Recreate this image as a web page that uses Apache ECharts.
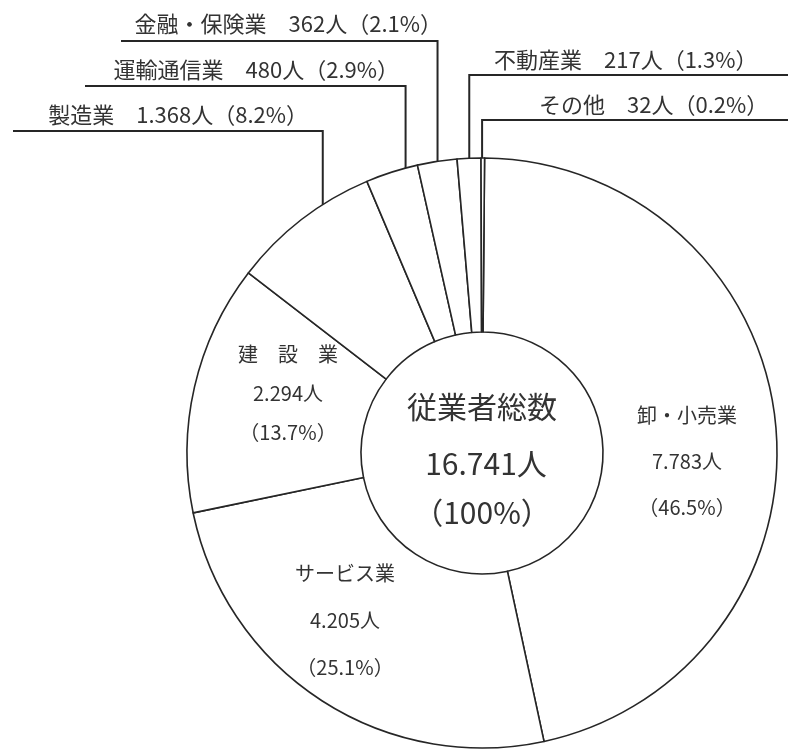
<!DOCTYPE html>
<html>
<head>
<meta charset="utf-8">
<script src="https://cdn.jsdelivr.net/npm/echarts/dist/echarts.min.js"></script>
<style>
  html, body { margin: 0; padding: 0; background: #ffffff; }
  #chart { width: 788px; height: 752px; }
</style>
</head>
<body>
<div id="chart"></div>
<script>
// ---------------- data ----------------
const categories = ['卸・小売業', 'サービス業', '建設業', '製造業', '運輸通信業', '金融・保険業', '不動産業', 'その他'];
const employees  = [7783, 4205, 2294, 1368, 480, 362, 217, 32];
const percents   = [46.5, 25.1, 13.7, 8.2, 2.9, 2.1, 1.3, 0.2];
const centerTitle = '従業者総数';
const centerPercent = 100;

// ---------------- layout / style (not data) ----------------
const FONT = '"Noto Sans CJK JP", "Noto Sans", sans-serif';
const INK = '#333333';
const LINE = '#262626';
const CENTER = [482, 453];
const RADIUS = [121, 295];
const START_ANGLE = 89.5;

// inside labels: anchor of the text block and line height
const insideLayout = {
  0: { x: 687, y: 461, lh: 46 },
  1: { x: 345, y: 620, lh: 47 },
  2: { x: 288, y: 393, lh: 39 }
};
// outside labels: leader line goes vertically up from inside the slice to a horizontal rule
const outsideLayout = {
  3: { side: 'left',  frac: 0.67, inset: 16, lineY: 131, lineEnd: 13,  textEdge: 308, textY: 115 },
  4: { side: 'left',  frac: 0.77, inset: 11, lineY: 86,  lineEnd: 85,  textEdge: 399, textY: 70 },
  5: { side: 'left',  frac: 0.51, inset: 6,  lineY: 41,  lineEnd: 121, textEdge: 442, textY: 24 },
  6: { side: 'right', frac: 0.51, inset: 11, lineY: 75,  lineEnd: 788, textEdge: 494, textY: 60 },
  7: { side: 'right', frac: 0.30, inset: 8,  lineY: 120, lineEnd: 788, textEdge: 539, textY: 105 }
};

const fmt = n => String(n).replace(/\B(?=(\d{3})+(?!\d))/g, '.');
const total = employees.reduce((a, b) => a + b, 0);

const chart = echarts.init(document.getElementById('chart'), null, { renderer: 'canvas' });

const dataItems = categories.map((name, i) => {
  const pct = percents[i].toFixed(1);
  if (insideLayout[i]) {
    const shown = name.length <= 3 ? name.split('').join('　') : name;
    const lh = insideLayout[i].lh;
    return {
      name: name,
      value: employees[i],
      label: {
        show: true,
        position: 'inside',
        formatter: '{n|' + shown + '}\n{v|' + fmt(employees[i]) + '人}\n{p|（' + pct + '%）}',
        rich: {
          n: { fontSize: 20, lineHeight: lh, fontFamily: FONT, color: INK, align: 'center' },
          v: { fontSize: 20, lineHeight: lh, fontFamily: FONT, color: INK, align: 'center' },
          p: { fontSize: 20, lineHeight: lh, fontFamily: FONT, color: INK, align: 'center' }
        }
      },
      labelLine: { show: false }
    };
  }
  return {
    name: name,
    value: employees[i],
    label: {
      show: true,
      position: 'outside',
      formatter: name + '　' + fmt(employees[i]) + '人（' + pct + '%）',
      fontSize: 22,
      fontFamily: FONT,
      color: INK
    },
    labelLine: {
      show: true,
      smooth: false,
      lineStyle: { color: LINE, width: 2 }
    }
  };
});

function sliceLayout(i) {
  try {
    return chart.getModel().getSeriesByIndex(0).getData().getItemLayout(i);
  } catch (e) {
    return null;
  }
}

const option = {
  backgroundColor: '#ffffff',
  animation: false,
  graphic: {
    elements: [
      { type: 'text', x: CENTER[0], y: 407, silent: true,
        style: { text: centerTitle, fill: INK, font: '30px ' + FONT, align: 'center', verticalAlign: 'middle' } },
      { type: 'text', x: CENTER[0] + 4, y: 464, silent: true,
        style: { text: fmt(total) + '人', fill: INK, font: '30px ' + FONT, align: 'center', verticalAlign: 'middle' } },
      { type: 'text', x: CENTER[0], y: 513, silent: true,
        style: { text: '（' + centerPercent + '%）', fill: INK, font: '30px ' + FONT, align: 'center', verticalAlign: 'middle' } }
    ]
  },
  series: [{
    type: 'pie',
    center: CENTER,
    radius: RADIUS,
    startAngle: START_ANGLE,
    clockwise: true,
    avoidLabelOverlap: false,
    minShowLabelAngle: 0,
    silent: true,
    emphasis: { disabled: true },
    itemStyle: { color: '#ffffff', borderColor: LINE, borderWidth: 1.6 },
    labelLayout: function (p) {
      const i = p.dataIndex;
      if (insideLayout[i]) {
        return { x: insideLayout[i].x, y: insideLayout[i].y, align: 'center', verticalAlign: 'middle' };
      }
      const L = outsideLayout[i];
      if (!L) return {};
      const lay = sliceLayout(i);
      let x0, y0;
      if (lay) {
        const a = lay.startAngle + L.frac * (lay.endAngle - lay.startAngle);
        x0 = lay.cx + lay.r * Math.cos(a);
        y0 = lay.cy + lay.r * Math.sin(a);
      } else if (p.labelLinePoints) {
        x0 = p.labelLinePoints[0][0];
        y0 = p.labelLinePoints[0][1];
      } else {
        return {};
      }
      return {
        x: L.textEdge,
        y: L.textY,
        align: L.side === 'left' ? 'right' : 'left',
        verticalAlign: 'middle',
        labelLinePoints: [[x0, y0 + L.inset], [x0, L.lineY], [L.lineEnd, L.lineY]]
      };
    },
    data: dataItems
  }]
};

chart.setOption(option);
</script>
</body>
</html>
